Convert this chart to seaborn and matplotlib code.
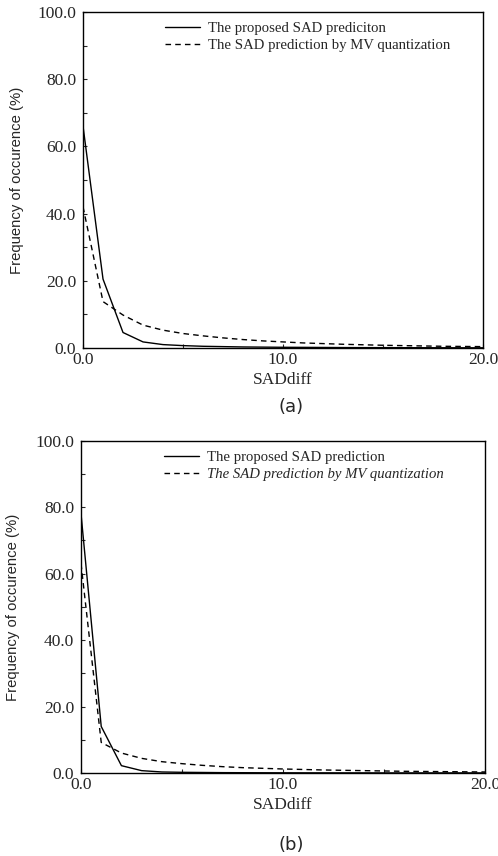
import numpy as np
import pandas as pd
import matplotlib
matplotlib.use("Agg")
import matplotlib.pyplot as plt
import seaborn as sns

sad_diff = list(range(0, 21))

# (a)
proposed_a = [66, 20.5, 4.6, 1.8, 1.0, 0.7, 0.5, 0.4, 0.3, 0.25, 0.2,
              0.18, 0.15, 0.12, 0.1, 0.1, 0.08, 0.07, 0.06, 0.05, 0.05]
mvq_a = [42, 13.8, 9.8, 6.8, 5.3, 4.3, 3.6, 3.0, 2.5, 2.1, 1.8,
         1.5, 1.3, 1.1, 0.95, 0.8, 0.7, 0.6, 0.5, 0.45, 0.4]
labels_a = ["The proposed SAD prediciton", "The SAD prediction by MV quantization"]

# (b)
proposed_b = [78, 14, 2.2, 0.7, 0.3, 0.2, 0.15, 0.1, 0.08, 0.06, 0.05,
              0.04, 0.04, 0.03, 0.03, 0.02, 0.02, 0.02, 0.02, 0.02, 0.02]
mvq_b = [63, 9.2, 6.0, 4.4, 3.4, 2.8, 2.3, 1.9, 1.6, 1.4, 1.2,
         1.05, 0.9, 0.8, 0.7, 0.6, 0.5, 0.45, 0.4, 0.35, 0.3]
labels_b = ["The proposed SAD prediction", "The SAD prediction by MV quantization"]

sns.set_style("ticks")
plt.rcParams["font.family"] = ["Liberation Serif", "DejaVu Serif"]

fig = plt.figure(figsize=(4.98, 8.56), dpi=100)
ax_a = fig.add_axes([0.1667, 0.5935, 0.8033, 0.3925])
ax_b = fig.add_axes([0.1627, 0.097, 0.8112, 0.388])


def draw_panel(ax, proposed, mvq, labels, ylab_x, italic_second=False):
    df = pd.DataFrame({
        "SADdiff": sad_diff * 2,
        "freq": proposed + mvq,
        "method": [labels[0]] * len(sad_diff) + [labels[1]] * len(sad_diff),
    })
    sns.lineplot(data=df, x="SADdiff", y="freq", style="method",
                 color="black", linewidth=1.0, ax=ax,
                 dashes={labels[0]: "", labels[1]: (4, 3)})
    ax.set_xlim(0, 20)
    ax.set_ylim(0, 100)
    ax.set_xticks([0, 10, 20])
    ax.set_xticklabels(["0.0", "10.0", "20.0"])
    ax.set_yticks([0, 20, 40, 60, 80, 100])
    ax.set_yticklabels(["0.0", "20.0", "40.0", "60.0", "80.0", "100.0"])
    ax.set_yticks(np.arange(10, 100, 20), minor=True)
    ax.set_xticks(np.arange(5, 20, 10), minor=True)
    ax.tick_params(axis="both", which="both", direction="in", labelsize=12.5,
                   length=3, width=0.8)
    ax.tick_params(axis="x", pad=3)
    ax.tick_params(axis="y", pad=5)
    for sp in ax.spines.values():
        sp.set_linewidth(1.0)
        sp.set_color("black")
    ax.set_xlabel("SADdiff", fontsize=12.5, labelpad=3)
    ax.set_ylabel("Frequency of occurence (%)", fontsize=10.7,
                  family=["Liberation Sans", "DejaVu Sans"])
    ax.yaxis.set_label_coords(ylab_x, 0.5)
    leg = ax.legend(loc="upper left", frameon=False, fontsize=10.6,
                    handlelength=2.4, handletextpad=0.5, borderaxespad=0,
                    borderpad=0, labelspacing=0.25,
                    bbox_to_anchor=(0.205, 0.97))
    if italic_second:
        leg.get_texts()[1].set_style("italic")


draw_panel(ax_a, proposed_a, mvq_a, labels_a, -0.147)
draw_panel(ax_b, proposed_b, mvq_b, labels_b, -0.150, italic_second=True)

fig.text(0.585, 1 - 407 / 856, "(a)", ha="center", va="center",
         fontsize=13, family="DejaVu Sans")
fig.text(0.585, 1 - 845 / 856, "(b)", ha="center", va="center",
         fontsize=13, family="DejaVu Sans")

fig.savefig("out.png", dpi=100)
